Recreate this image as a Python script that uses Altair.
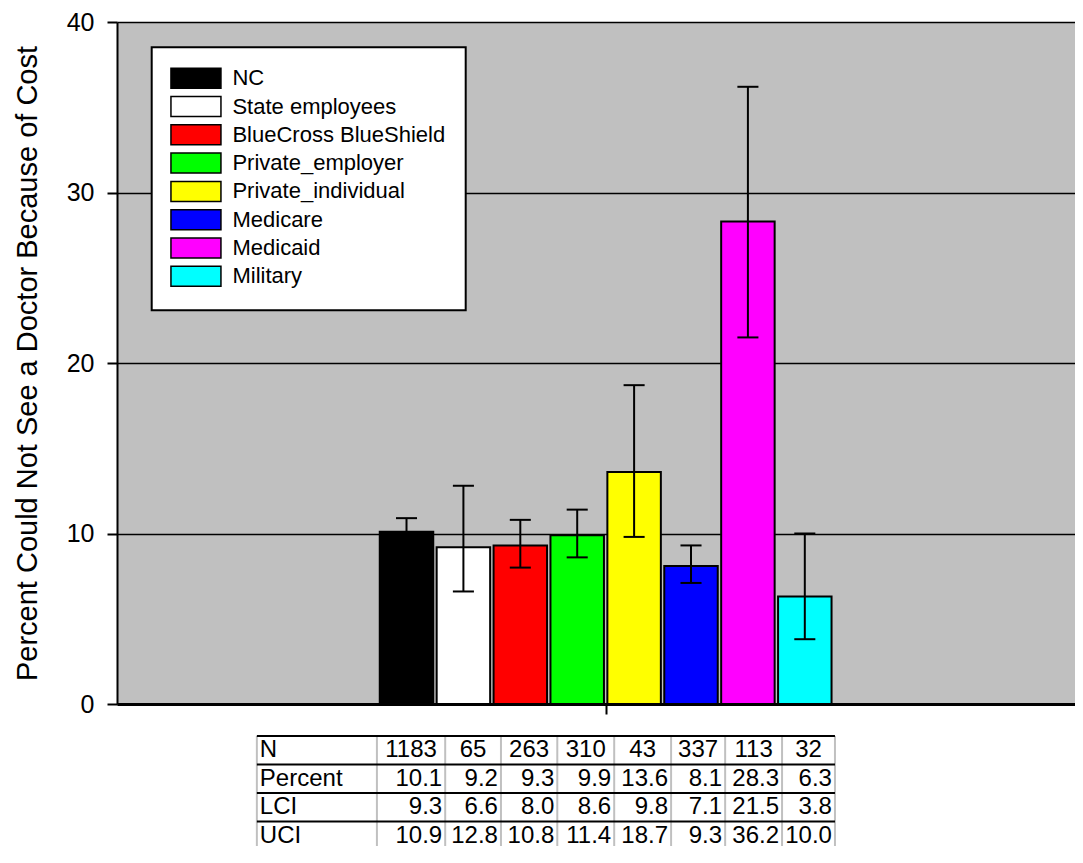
import altair as alt
import pandas as pd

# ---- data ----
categories = ["NC", "State employees", "BlueCross BlueShield", "Private_employer",
              "Private_individual", "Medicare", "Medicaid", "Military"]
n_values = [1183, 65, 263, 310, 43, 337, 113, 32]
percent = [10.1, 9.2, 9.3, 9.9, 13.6, 8.1, 28.3, 6.3]
lci = [9.3, 6.6, 8.0, 8.6, 9.8, 7.1, 21.5, 3.8]
uci = [10.9, 12.8, 10.8, 11.4, 18.7, 9.3, 36.2, 10.0]
colors = ["#000000", "#FFFFFF", "#FF0000", "#00FF00", "#FFFF00", "#0000FF", "#FF00FF", "#00FFFF"]
row_labels = ["N", "Percent", "LCI", "UCI"]
y_ticks = [0, 10, 20, 30, 40]

# ---- layout constants (x in units of bar spacing) ----
PLOT_W = 958
PLOT_H = 682
X_DOMAIN = [-5.088, -5.088 + PLOT_W / 56.9]
BAR_HALF = 0.47
CAP_HALF = 0.185
TABLE_EDGES = [-2.63, -0.52, 0.68, 1.66, 2.65, 3.65, 4.65, 5.6, 6.6, 7.53]
ROW_H = 28.5
TABLE_H = 110
FONT = "Liberation Sans"

xscale = alt.Scale(domain=X_DOMAIN, nice=False, zero=False)

df = pd.DataFrame({
    "cat": categories,
    "pos": list(range(len(categories))),
    "pct": percent,
    "lci": lci,
    "uci": uci,
})
df["zero"] = 0.0
df["lo"] = df["pos"] - BAR_HALF
df["hi"] = df["pos"] + BAR_HALF
df["clo"] = df["pos"] - CAP_HALF
df["chi"] = df["pos"] + CAP_HALF

xaxis = alt.Axis(values=[3.5], labels=False, title=None, grid=False,
                 domainColor="black", domainWidth=3, tickColor="black",
                 tickSize=10, tickWidth=2)
yaxis = alt.Axis(values=y_ticks, grid=True, gridColor="black", gridWidth=1.6,
                 domainColor="black", domainWidth=2, tickColor="black",
                 tickSize=10, tickWidth=2, labelFontSize=25, labelFont=FONT,
                 labelColor="black", labelPadding=13,
                 title="Percent Could Not See a Doctor Because of Cost",
                 titleFont=FONT, titleFontSize=29, titleFontWeight="normal",
                 titleColor="black", titlePadding=24)
yscale = alt.Scale(domain=[0, 40], nice=False)

base = alt.Chart(df)
bars = base.mark_bar(stroke="black", strokeWidth=2).encode(
    x=alt.X("lo:Q", scale=xscale, axis=xaxis),
    x2="hi:Q",
    y=alt.Y("pct:Q", scale=yscale, axis=yaxis),
    y2="zero:Q",
    color=alt.Color("cat:N", scale=alt.Scale(domain=categories, range=colors),
                    legend=alt.Legend(
                        title=None, orient="none", legendX=34.7, legendY=25.2,
                        fillColor="white", strokeColor="black", padding=20,
                        symbolType="M-2.5,-1H2.5V1H-2.5Z", symbolSize=400,
                        symbolOffset=13.25,
                        symbolStrokeColor="black", symbolStrokeWidth=1.5,
                        symbolOpacity=1, labelFont=FONT, labelFontSize=22,
                        labelColor="black", labelOffset=25.5, rowPadding=2.3,
                        labelLimit=400)),
)
err = base.mark_rule(color="black", strokeWidth=2).encode(
    x=alt.X("pos:Q", scale=xscale), y=alt.Y("lci:Q", scale=yscale), y2="uci:Q")
cap_lo = base.mark_rule(color="black", strokeWidth=2).encode(
    x=alt.X("clo:Q", scale=xscale), x2="chi:Q", y=alt.Y("lci:Q", scale=yscale))
cap_hi = base.mark_rule(color="black", strokeWidth=2).encode(
    x=alt.X("clo:Q", scale=xscale), x2="chi:Q", y=alt.Y("uci:Q", scale=yscale))

top = alt.layer(bars, err, cap_lo, cap_hi).properties(
    width=PLOT_W, height=PLOT_H,
    view=alt.ViewBackground(fill="#C0C0C0", stroke=None))

# ---- table ----
fmt = lambda v: f"{v:.1f}"
rows_values = [[str(v) for v in n_values], [fmt(v) for v in percent],
               [fmt(v) for v in lci], [fmt(v) for v in uci]]

cells = []
for r, (lab, vals) in enumerate(zip(row_labels, rows_values)):
    for c, v in enumerate(vals):
        left, right = TABLE_EDGES[c + 1], TABLE_EDGES[c + 2]
        cells.append({"row": r + 0.5, "txt": v, "mid": (left + right) / 2,
                      "right": right, "kind": "n" if r == 0 else "v"})
cells_df = pd.DataFrame(cells)
labels_df = pd.DataFrame({"row": [r + 0.5 for r in range(len(row_labels))],
                          "txt": row_labels, "x": [TABLE_EDGES[0]] * len(row_labels)})
y_bottom = TABLE_H / ROW_H
edges_df = pd.DataFrame({"x": TABLE_EDGES, "y0": 0.0, "y1": y_bottom})
hlines_df = pd.DataFrame({"y": [0, 1, 2, 3], "x0": TABLE_EDGES[0], "x1": TABLE_EDGES[-1]})

tscale_y = alt.Scale(domain=[0, y_bottom], reverse=True, nice=False, zero=False)
TS = 24

vlines = alt.Chart(edges_df).mark_rule(color="#C0C0C0", strokeWidth=2).encode(
    x=alt.X("x:Q", scale=xscale, axis=None),
    y=alt.Y("y0:Q", scale=tscale_y, axis=None), y2="y1:Q")
hlines = alt.Chart(hlines_df).mark_rule(color="black", strokeWidth=2).encode(
    x=alt.X("x0:Q", scale=xscale, axis=None), x2="x1:Q",
    y=alt.Y("y:Q", scale=tscale_y, axis=None))
lab_text = alt.Chart(labels_df).mark_text(
    align="left", baseline="middle", dx=3, font=FONT, fontSize=TS, color="black").encode(
    x=alt.X("x:Q", scale=xscale, axis=None),
    y=alt.Y("row:Q", scale=tscale_y, axis=None), text="txt:N")
n_text = alt.Chart(cells_df).transform_filter("datum.kind == 'n'").mark_text(
    align="center", baseline="middle", font=FONT, fontSize=TS, color="black").encode(
    x=alt.X("mid:Q", scale=xscale, axis=None),
    y=alt.Y("row:Q", scale=tscale_y, axis=None), text="txt:N")
v_text = alt.Chart(cells_df).transform_filter("datum.kind == 'v'").mark_text(
    align="right", baseline="middle", dx=-3, font=FONT, fontSize=TS, color="black").encode(
    x=alt.X("right:Q", scale=xscale, axis=None),
    y=alt.Y("row:Q", scale=tscale_y, axis=None), text="txt:N")

table = alt.layer(vlines, hlines, lab_text, n_text, v_text).properties(
    width=PLOT_W, height=TABLE_H, view=alt.ViewBackground(stroke=None))

chart = alt.vconcat(top, table, spacing=18).properties(
    padding={"left": 5, "top": 2, "right": 0, "bottom": 0}
).configure_legend(strokeWidth=2).configure_view(stroke=None)

chart.save("out.html", embed_options={"renderer": "svg", "actions": False})
